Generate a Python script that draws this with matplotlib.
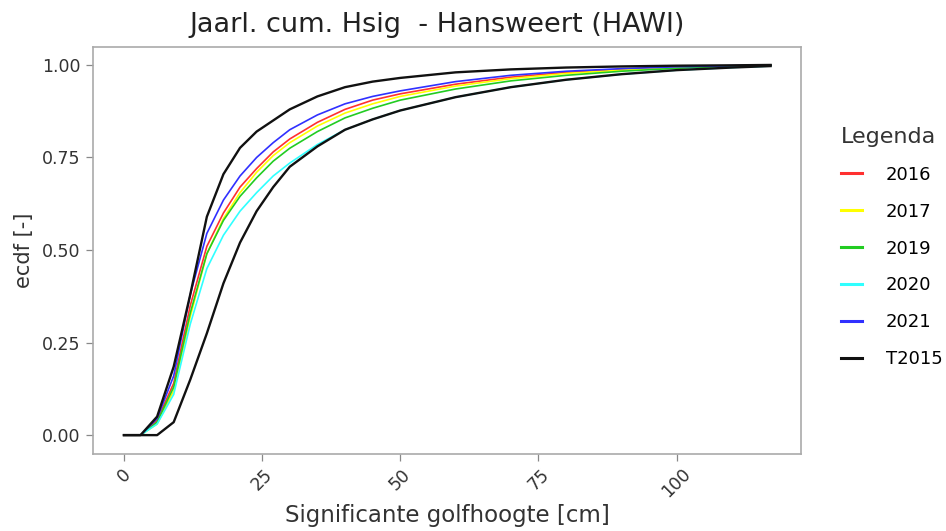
import numpy as np
import matplotlib
matplotlib.use("Agg")
import matplotlib.pyplot as plt

# golfhoogte grid [cm]
hs = [0, 3, 6, 9, 12, 15, 18, 21, 24, 27, 30, 35, 40, 45, 50, 60, 70, 80, 90, 100, 110, 117]

ecdf_2016 = [0, 0, 0.04, 0.14, 0.35, 0.51, 0.60, 0.67, 0.72, 0.765, 0.80, 0.845, 0.88, 0.905,
             0.922, 0.948, 0.967, 0.980, 0.988, 0.994, 0.997, 1.0]
ecdf_2017 = [0, 0, 0.03, 0.12, 0.32, 0.49, 0.585, 0.655, 0.71, 0.755, 0.79, 0.835, 0.87, 0.895,
             0.915, 0.943, 0.963, 0.977, 0.986, 0.993, 0.997, 1.0]
ecdf_2019 = [0, 0, 0.035, 0.13, 0.33, 0.49, 0.58, 0.645, 0.695, 0.74, 0.775, 0.82, 0.857, 0.883,
             0.905, 0.935, 0.957, 0.972, 0.983, 0.991, 0.996, 1.0]
ecdf_2020 = [0, 0, 0.03, 0.11, 0.30, 0.45, 0.54, 0.605, 0.655, 0.70, 0.735, 0.785, 0.825, 0.853,
             0.877, 0.913, 0.94, 0.96, 0.975, 0.986, 0.993, 0.997]
ecdf_2021 = [0, 0, 0.045, 0.16, 0.38, 0.545, 0.635, 0.70, 0.75, 0.79, 0.825, 0.865, 0.895, 0.915,
             0.93, 0.955, 0.972, 0.983, 0.99, 0.995, 0.998, 1.0]
# T2015 band (upper and lower)
t2015_hi = [0, 0, 0.05, 0.185, 0.38, 0.59, 0.705, 0.776, 0.82, 0.85, 0.88, 0.915, 0.94, 0.955,
            0.965, 0.98, 0.988, 0.993, 0.996, 0.998, 0.999, 1.0]
t2015_lo = [0, 0, 0.0, 0.035, 0.15, 0.275, 0.41, 0.52, 0.605, 0.67, 0.725, 0.78, 0.825, 0.853,
            0.877, 0.913, 0.94, 0.96, 0.975, 0.986, 0.993, 0.997]

years = ["2016", "2017", "2019", "2020", "2021"]
series = [ecdf_2016, ecdf_2017, ecdf_2019, ecdf_2020, ecdf_2021]
colors = ["#ff3030", "#ffff00", "#22cc22", "#30ffff", "#3030ff"]

fig = plt.figure(figsize=(9.46, 5.31), dpi=100)
ax = fig.add_axes([93 / 946, 1 - 454 / 531, 708 / 946, 407 / 531])

handles = []
for yr, vals, c in zip(years, series, colors):
    h, = ax.plot(hs, vals, color=c, lw=1.2, label=yr)
    handles.append(h)
h, = ax.plot(hs, t2015_hi, color="#111111", lw=1.7, label="T2015")
ax.plot(hs, t2015_lo, color="#111111", lw=1.7)
handles.append(h)

ax.set_xlim(-5.6, 122.5)
ax.set_ylim(-0.051, 1.0485)
ax.set_xticks([0, 25, 50, 75, 100])
ax.set_yticks([0, 0.25, 0.5, 0.75, 1.0])
ax.set_yticklabels(["0.00", "0.25", "0.50", "0.75", "1.00"])
for lbl in ax.get_xticklabels():
    lbl.set_rotation(45)
ax.tick_params(labelcolor="#333333", labelsize=12.5, length=5, width=0.9, color="#888888")
ax.tick_params(axis="y", pad=4)
ax.tick_params(axis="x", pad=3)
for sp in ax.spines.values():
    sp.set_color("#aaaaaa")
    sp.set_linewidth(1.2)

ax.set_xlabel("Significante golfhoogte [cm]", fontsize=16.5, color="#333333", labelpad=2)
ax.set_ylabel("ecdf [-]", fontsize=15, color="#333333", labelpad=6)
fig.text(437 / 946, 1 - 32 / 531, "Jaarl. cum. Hsig  - Hansweert (HAWI)", ha="center",
         va="baseline", fontsize=19.5, color="#222222")

leg = fig.legend(handles=handles, loc="upper left", bbox_to_anchor=(828 / 946, 1 - 114 / 531),
                 frameon=False, title="Legenda", fontsize=13, title_fontsize=16,
                 handlelength=1.2, handletextpad=1.3, labelspacing=1.05, alignment="left",
                 borderpad=0.2)
leg.get_title().set_color("#333333")
for line in leg.get_lines():
    line.set_linewidth(2.2)

fig.savefig("out.png", dpi=100)
